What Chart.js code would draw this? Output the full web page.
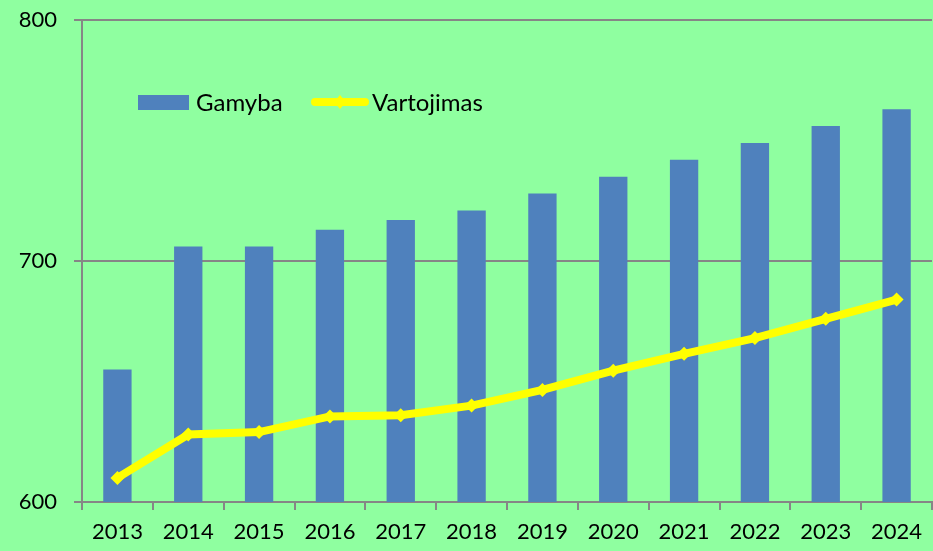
<!DOCTYPE html>
<html>
<head>
<meta charset="utf-8">
<script src="https://cdn.jsdelivr.net/npm/chart.js@4.4.1/dist/chart.umd.min.js"></script>
<style>
html,body{margin:0;padding:0;background:#8FFFA0;}
canvas{display:block;}
</style>
</head>
<body>
<canvas id="c" width="933" height="551"></canvas>
<script>
const categories = ["2013","2014","2015","2016","2017","2018","2019","2020","2021","2022","2023","2024"];
const gamyba = [655, 706, 706, 713, 717, 721, 728, 735, 742, 749, 756, 763];
const vartojimas = [610, 628, 629, 635.5, 636, 640, 646.5, 654.5, 661.5, 668, 676, 684];
const yTicks = [600, 700, 800];

const BG = '#8FFFA0';
const BAR = '#4F81BD';
const LINE = '#FFFF00';
const GRID = '#868686';
const FONT = 'Lato, "Open Sans", sans-serif';

const bgPlugin = {
  id: 'bg',
  beforeDraw(chart) {
    const ctx = chart.ctx;
    ctx.save();
    ctx.fillStyle = BG;
    ctx.fillRect(0, 0, chart.width, chart.height);
    ctx.restore();
  }
};

const legendPlugin = {
  id: 'innerLegend',
  afterDatasetsDraw(chart) {
    const ctx = chart.ctx;
    const ds = chart.data.datasets;
    const bar = ds.find(d => d.type === 'bar');
    const line = ds.find(d => d.type === 'line');
    ctx.save();
    ctx.font = '24px ' + FONT;
    ctx.textBaseline = 'middle';
    const cy = 102;
    // bar entry
    ctx.fillStyle = bar.backgroundColor;
    ctx.fillRect(138, 95, 51, 15);
    ctx.fillStyle = '#000';
    ctx.fillText(bar.label, 196, cy + 1);
    // line entry
    ctx.strokeStyle = line.borderColor;
    ctx.lineWidth = 8;
    ctx.lineCap = 'round';
    ctx.beginPath();
    ctx.moveTo(315, cy);
    ctx.lineTo(365, cy);
    ctx.stroke();
    ctx.fillStyle = line.borderColor;
    ctx.beginPath();
    ctx.moveTo(340, cy - 7);
    ctx.lineTo(346, cy);
    ctx.lineTo(340, cy + 7);
    ctx.lineTo(334, cy);
    ctx.closePath();
    ctx.fill();
    ctx.fillStyle = '#000';
    ctx.fillText(line.label, 372, cy + 1);
    ctx.restore();
  }
};

new Chart(document.getElementById('c'), {
  data: {
    labels: categories,
    datasets: [
      {
        type: 'line',
        label: 'Vartojimas',
        data: vartojimas,
        borderColor: LINE,
        backgroundColor: LINE,
        borderWidth: 8,
        pointStyle: 'rectRot',
        pointRadius: 7,
        pointBorderWidth: 0,
        pointBackgroundColor: LINE,
        tension: 0,
        clip: false,
        order: 0
      },
      {
        type: 'bar',
        label: 'Gamyba',
        data: gamyba,
        backgroundColor: BAR,
        borderWidth: 0,
        categoryPercentage: 1.0,
        barPercentage: 0.4,
        order: 1
      }
    ]
  },
  options: {
    responsive: false,
    animation: false,
    layout: { autoPadding: false, padding: { top: 20, right: 1, left: 0, bottom: 0 } },
    plugins: {
      legend: { display: false },
      tooltip: { enabled: false }
    },
    scales: {
      x: {
        grid: {
          offset: true,
          drawOnChartArea: false,
          drawTicks: true,
          tickLength: 8,
          color: GRID,
          lineWidth: 2
        },
        border: { display: true, color: GRID, width: 2 },
        ticks: {
          color: '#000',
          font: { family: FONT, size: 22 },
          padding: 9,
          maxRotation: 0,
          autoSkip: false
        },
        afterFit(scale) { scale.height = 49; scale.paddingLeft = 0; scale.paddingRight = 0; }
      },
      y: {
        min: 600,
        max: 800,
        afterBuildTicks(scale) { scale.ticks = yTicks.map(v => ({ value: v })); },
        grid: {
          drawOnChartArea: true,
          drawTicks: true,
          tickLength: 8,
          color: GRID,
          lineWidth: 2
        },
        border: { display: true, color: GRID, width: 2 },
        ticks: {
          color: '#000',
          font: { family: FONT, size: 22 },
          padding: 17
        },
        afterFit(scale) { scale.width = 82; scale.paddingTop = 0; scale.paddingBottom = 0; }
      }
    }
  },
  plugins: [bgPlugin, legendPlugin]
});
</script>
</body>
</html>
